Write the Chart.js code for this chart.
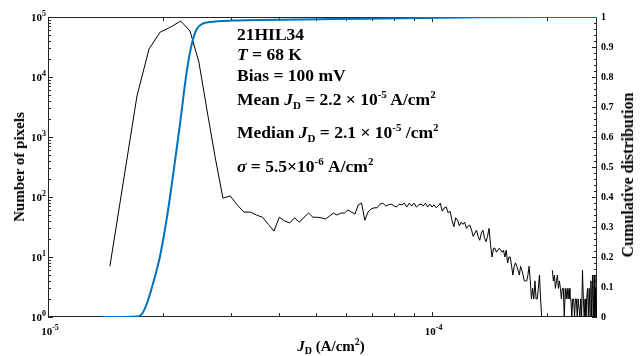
<!DOCTYPE html>
<html>
<head>
<meta charset="utf-8">
<script src="https://cdn.jsdelivr.net/npm/chart.js@4.4.1/dist/chart.umd.min.js"></script>
<style>
  body { margin: 0; background: #fff; }
  #wrap { position: relative; width: 640px; height: 356px; }
  #wrap canvas { position: absolute; left: 0; top: 0; }
  .txt { position: absolute; font-family: "Liberation Serif", serif; font-weight: bold; color: #000; white-space: nowrap; }
  .note { left: 237px; font-size: 17.5px; line-height: 17px; }
  .sup { font-size: 11px; position: relative; top: -7px; }
  .sub { font-size: 11px; position: relative; top: 4px; }
  .ytitle { line-height: 16px; transform: translate(-50%, -50%) rotate(-90deg); }
  .xtitle { font-size: 15px; line-height: 15px; transform: translateX(-50%); }
  .xtitle .sup { font-size: 10px; top: -6px; }
  .xtitle .sub { font-size: 10px; top: 3px; }
</style>
</head>
<body>
<div id="wrap">
  <canvas id="chart" width="640" height="356"></canvas>
  <div class="txt note" style="top:26px">21HIL34</div>
  <div class="txt note" style="top:46px"><i>T</i> = 68 K</div>
  <div class="txt note" style="top:67px">Bias = 100 mV</div>
  <div class="txt note" style="top:91px">Mean <i>J</i><span class="sub">D</span> = 2.2 × 10<span class="sup">-5</span> A/cm<span class="sup">2</span></div>
  <div class="txt note" style="top:124px">Median <i>J</i><span class="sub">D</span> = 2.1 × 10<span class="sup">-5</span> /cm<span class="sup">2</span></div>
  <div class="txt note" style="top:158px"><i>σ</i> = 5.5×10<span class="sup">-6</span> A/cm<span class="sup">2</span></div>
  <div class="txt ytitle" style="left:19px;top:167px;font-size:15px">Number of pixels</div>
  <div class="txt ytitle" style="left:628px;top:175px;font-size:16px">Cumulative distribution</div>
  <div class="txt xtitle" style="left:331px;top:339px"><i>J</i><span class="sub">D</span> (A/cm<span class="sup">2</span>)</div>
</div>
<script>
// histogram: bin centre J_D (units of 1e-5 A/cm2) and number of pixels
let jd=[1.450,
  1.706,1.834,1.962,2.090,2.218,2.346,2.474,2.602,
  2.730,2.858,2.986,3.114,3.242,3.370,3.498,3.626,3.754,3.882,
  4.010,4.138,4.266,4.394,4.522,4.650,4.778,4.906,5.034,5.162,
  5.290,5.418,5.546,5.674,5.802,5.930,6.058,6.186,6.314,6.442,
  6.570,6.698,6.826,6.954,7.082,7.210,7.338,7.466,7.594,7.722,
  7.850,7.978,8.106,8.234,8.362,8.490,8.618,8.746,8.874,9.002,
  9.130,9.258,9.386,9.514,9.642,9.770,9.898,10.026,10.154,10.282,
  10.410,10.538,10.666,10.794,10.922,11.050,11.178,11.306,11.434,11.562,
  11.690,11.818,11.946,12.074,12.202,12.330,12.458,12.586,12.714,12.842,
  12.970,13.098,13.226,13.354,13.482,13.610,13.738,13.866,13.994,14.122,
  14.250,14.378,14.506,14.634,14.762,14.890,15.018,15.146,15.274,15.402,
  15.530,15.658,15.786,15.914,16.042,16.170,16.298,16.426,16.554,16.682,
  16.810,16.938,17.066,17.194,17.322,17.450,17.578,17.706,17.834,17.962,
  18.090,18.218,18.346,18.474,18.602,18.730,18.858,18.986,19.114,19.242,
  19.370,19.498,19.626,19.754,19.882,20.010,20.138,20.266,20.394,20.522,
  20.650,20.778,20.906,21.034,21.162,21.290,21.418,21.546,21.674,21.802,
  21.930,22.058,22.186,22.314,22.442,22.570,22.698,22.826,22.954,23.082,
  23.210,23.338,23.466,23.594,23.722,23.850,23.978,24.106,24.234,24.362,
  24.490,24.618,24.746,24.874,25.002,25.130,25.258,25.386,25.514,25.642,
  25.770,25.898,26.026,26.154,26.282,26.410,26.538,26.666,26.794,26.922,27.050];
let counts=[7,
  4820,29300,56200,68100,85800,58400,17800,2610,
  447,96,104,74,56,56,50,46,35,27,
  46,40,37,45,38,46,54,46,46,45,
  43,48,54,50,54,54,61,56,52,74,
  79,41,56,63,66,66,76,79,71,74,
  76,71,68,76,74,79,68,79,71,79,
  68,74,76,71,79,68,76,68,74,66,
  71,79,58,66,68,54,58,41,32,45,
  41,33,38,35,38,30,33,34,28,22,
  25,28,22,19,25,28,21,18,22,30,
  16,10,14,14,12,13,14,13,12,13,
  10,13,8,10,10,7,5,7,8,7,
  6,5,7,6,5,4,4,4,5,7,
  4,2,3,2,4,2,2,3,5,2,
  1,null,null,null,null,null,null,3,null,null,
  6,4,5,3,4,5,3,4,3,2,
  3,3,1,3,2,3,2,3,2,2,
  1,2,2,1,2,2,1,2,2,1,
  2,1,6,2,1,2,1,2,3,1,
  3,1,4,1,5,1,5,1,3,1,2];
// cumulative distribution
let cdfJd=[1.382,1.705,1.757,1.811,1.877,1.957,2.041,2.116,2.207,2.301,2.371,2.443,2.533,2.642,3.032,5.524,13.34,27.0];
let cdfVal=[0,0.002,0.01,0.045,0.11,0.2,0.33,0.467,0.64,0.82,0.91,0.96,0.978,0.983,0.988,0.993,0.999,1.0];
// axis ticks
let xTicks=[1e-5,2e-5,3e-5,4e-5,5e-5,6e-5,7e-5,8e-5,9e-5,1e-4,2e-4];
let xLabelTicks=[[1e-5,'-5'],[1e-4,'-4']];
let yDecades=[0,1,2,3,4,5];

let histPts=[];
for(let i=0;i<jd.length;++i){
    histPts.push({x:jd[i]*1e-5,y:counts[i]});
}
let cdfPts=[];
for(let i=0;i<cdfJd.length;++i){
    cdfPts.push({x:cdfJd[i]*1e-5,y:cdfVal[i]});
}

const SERIF='"Liberation Serif", "Times New Roman", serif';
const AXC='#262626';

function drawPow(ctx,exp,x,y,align){
    ctx.font='bold 11px '+SERIF;
    let wb=ctx.measureText('10').width;
    ctx.font='bold 8px '+SERIF;
    let we=ctx.measureText(exp).width;
    let x0=align=='right'?x-wb-we:x-(wb+we)/2;
    ctx.font='bold 11px '+SERIF;
    ctx.fillText('10',x0,y);
    ctx.font='bold 8px '+SERIF;
    ctx.fillText(exp,x0+wb,y-5);
}

const frame={
    id:'frame',
    beforeDatasetsDraw(chart){
        let ctx=chart.ctx, a=chart.chartArea;
        let sx=chart.scales.x, sy=chart.scales.y, sy2=chart.scales.y2;
        ctx.save();
        ctx.strokeStyle=AXC;
        ctx.lineWidth=1;
        ctx.strokeRect(Math.round(a.left)+0.5,Math.round(a.top)+0.5,Math.round(a.right-a.left)-1,Math.round(a.bottom-a.top)-1);
        ctx.beginPath();
        for(let v of xTicks){
            let px=Math.round(sx.getPixelForValue(v))+0.5;
            let len=(v==1e-5||v==1e-4)?5:4;
            ctx.moveTo(px,a.bottom);ctx.lineTo(px,a.bottom-len);
            ctx.moveTo(px,a.top);ctx.lineTo(px,a.top+len);
        }
        for(let n=0;n<5;++n){
            for(let m=1;m<10;++m){
                let py=Math.round(sy.getPixelForValue(m*Math.pow(10,n)))+0.5;
                let len=m==1?5:3;
                ctx.moveTo(a.left,py);ctx.lineTo(a.left+len,py);
            }
        }
        for(let i=0;i<=50;++i){
            let py=Math.round(sy2.getPixelForValue(i*0.02))+0.5;
            let len=i%5==0?5:3;
            ctx.moveTo(a.right,py);ctx.lineTo(a.right-len,py);
        }
        ctx.stroke();
        ctx.restore();
    },
    afterDraw(chart){
        let ctx=chart.ctx;
        let sx=chart.scales.x, sy=chart.scales.y;
        ctx.save();
        ctx.fillStyle='#000';
        ctx.textBaseline='alphabetic';
        ctx.textAlign='left';
        for(let n of yDecades){
            let py=sy.getPixelForValue(Math.pow(10,n));
            drawPow(ctx,String(n),46,py+4,'right');
        }
        for(let t of xLabelTicks){
            let px=sx.getPixelForValue(t[0]);
            drawPow(ctx,t[1],px+2,335,'center');
        }
        ctx.restore();
    }
};

new Chart(document.getElementById('chart'),{
    type:'line',
    data:{
        datasets:[{
            data:histPts,
            yAxisID:'y',
            borderColor:'#000',
            borderWidth:1,
            pointRadius:0,
            spanGaps:false,
            tension:0,
            order:2
        },{
            data:cdfPts,
            yAxisID:'y2',
            borderColor:'#0072BD',
            borderWidth:2,
            pointRadius:0,
            cubicInterpolationMode:'monotone',
            order:1
        }]
    },
    options:{
        responsive:false,
        animation:false,
        layout:{padding:{top:17,left:0,right:0,bottom:0}},
        plugins:{legend:{display:false},tooltip:{enabled:false}},
        scales:{
            x:{
                type:'logarithmic',min:1e-5,max:2.7e-4,
                grid:{display:false},border:{display:false},
                ticks:{display:false},
                afterFit:function(s){s.height=39;}
            },
            y:{
                type:'logarithmic',position:'left',min:1,max:1e5,
                grid:{display:false},border:{display:false},
                ticks:{display:false},
                afterFit:function(s){s.width=48;}
            },
            y2:{
                type:'linear',position:'right',min:0,max:1,
                grid:{display:false,drawTicks:false},border:{display:false},
                ticks:{
                    stepSize:0.1,padding:4,color:'#000',
                    font:{family:SERIF,size:10,weight:'bold'},
                    callback:function(v){
                        if(v==0) return '0';
                        if(v==1) return '1';
                        return v.toFixed(1);
                    }
                },
                afterFit:function(s){s.width=43;}
            }
        }
    },
    plugins:[frame]
});
</script>
</body>
</html>
